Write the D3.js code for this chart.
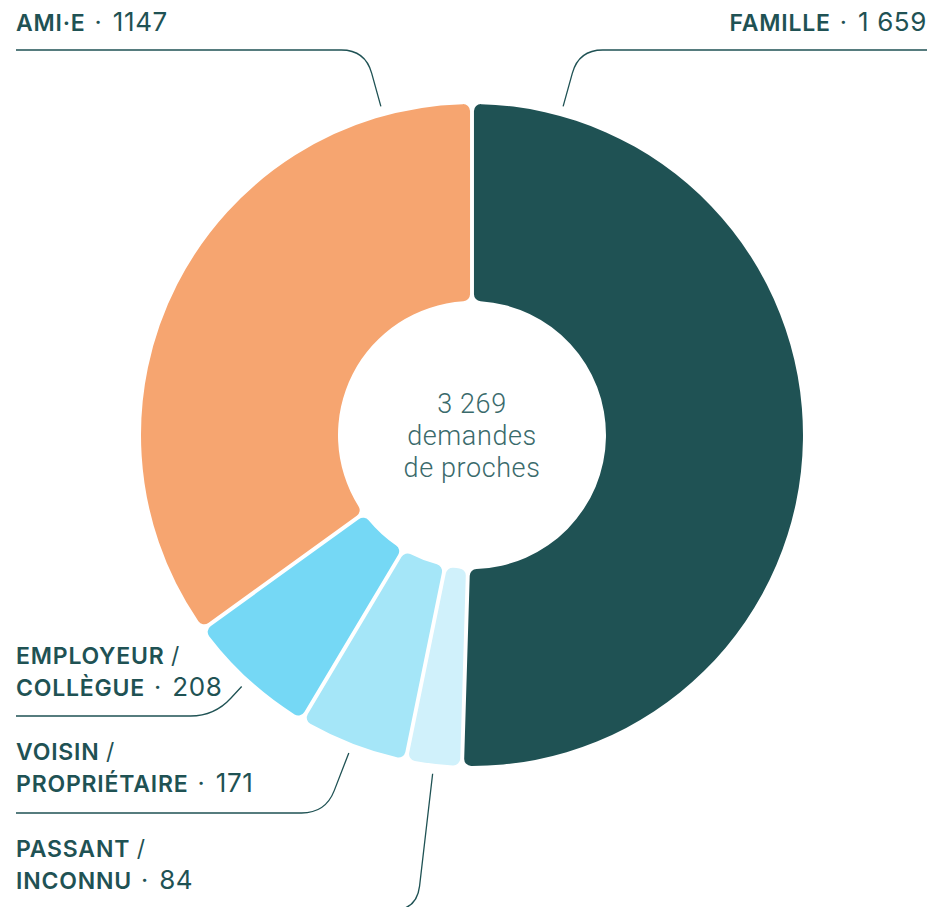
<!DOCTYPE html>
<html>
<head>
<meta charset="utf-8">
<script src="https://cdn.jsdelivr.net/npm/d3@7"></script>
<style>
  html, body { margin: 0; padding: 0; background: #fff; }
  svg { display: block; }
</style>
</head>
<body>
<div id="chart"></div>
<script>
// données
const categories = ["Famille", "Passant / inconnu", "Voisin / propriétaire", "Employeur / collègue", "Ami·e"];
const values = [1659, 84, 171, 208, 1147];
const valueLabels = ["1 659", "84", "171", "208", "1147"];
// libellés en gras, une entrée par ligne
const labelLines = [
    ["FAMILLE"],
    ["PASSANT /", "INCONNU"],
    ["VOISIN /", "PROPRIÉTAIRE"],
    ["EMPLOYEUR /", "COLLÈGUE"],
    ["AMI·E"]
];
const centerLines = ["demandes", "de proches"];

const width = 929, height = 907;
const cx = 472, cy = 435;
const outerR = 331, innerR = 134;
const ink = "#1f5254";
const sliceColors = ["#1f5254", "#d0f1fb", "#a5e6f8", "#75d8f5", "#f6a570"];

// position des étiquettes (côté, lignes de base, ligne horizontale, angle forcé)
const labelLayout = [
    { side: "right", base: 31, hy: 50, angle: 15.5 },
    { side: "left", base: 857, hy: 910 },
    { side: "left", base: 760, hy: 813 },
    { side: "left", base: 664, hy: 716 },
    { side: "left", base: 31, hy: 50, angle: -15.5 }
];

const data = categories.map((c, i) => ({ cat: c, value: values[i], idx: i }));

const svg = d3.select("#chart").append("svg")
    .attr("width", width)
    .attr("height", height)
    .attr("viewBox", `0 0 ${width} ${height}`);

const g = svg.append("g").attr("transform", `translate(${cx},${cy})`);

const pie = d3.pie().sort(null).value(d => d.value).padAngle(0.011);
const arc = d3.arc().innerRadius(innerR).outerRadius(outerR).cornerRadius(7);
const arcs = pie(data);

g.selectAll("path.slice")
    .data(arcs)
    .enter()
    .append("path")
    .attr("class", "slice")
    .attr("d", arc)
    .attr("fill", d => sliceColors[d.data.idx]);

// texte central
const fr = d3.formatLocale({ decimal: ",", thousands: " ", grouping: [3], currency: ["", " €"] });
const total = d3.sum(values);
const center = g.append("text")
    .attr("text-anchor", "middle")
    .attr("fill", "#3a6a6b")
    .attr("font-family", "Roboto, sans-serif")
    .attr("font-weight", 300)
    .attr("font-size", 27)
    .attr("letter-spacing", 0.6);
[fr.format(",")(total), ...centerLines].forEach((t, i) => {
    center.append("tspan").attr("x", 0).attr("y", -22 + i * 32).text(t);
});

// lignes de rappel + étiquettes
const lineH = 32;
arcs.forEach(d => {
    const i = d.data.idx;
    const L = labelLayout[i];
    const a = L.angle !== undefined ? L.angle * Math.PI / 180 : (d.startAngle + d.endAngle) / 2;
    const ux = Math.sin(a), uy = -Math.cos(a);
    const r0 = outerR + 10;
    const sx = cx + r0 * ux, sy = cy + r0 * uy;
    const t = (L.hy - sy) / uy;
    const px = sx + t * ux, py = L.hy;
    const rc = 24;
    const hx = L.side === "left" ? -1 : 1;
    const xEnd = L.side === "left" ? 16 : 927;
    const p = d3.path();
    p.moveTo(sx, sy);
    p.lineTo(px - rc * ux, py - rc * uy);
    p.quadraticCurveTo(px, py, px + hx * rc, py);
    p.lineTo(xEnd, py);
    svg.append("path")
        .attr("d", p.toString())
        .attr("fill", "none")
        .attr("stroke", ink)
        .attr("stroke-width", 1.3);

    const txt = svg.append("text")
        .attr("fill", ink)
        .attr("font-family", "Inter, sans-serif")
        .attr("font-size", 23)
        .attr("text-anchor", L.side === "left" ? "start" : "end");
    const lines = labelLines[i];
    lines.forEach((ln, k) => {
        const tl = txt.append("tspan")
            .attr("x", xEnd)
            .attr("y", L.base + k * lineH);
        const last = k === lines.length - 1;
        const slash = ln.endsWith(" /");
        tl.append("tspan")
            .attr("font-weight", 600)
            .attr("letter-spacing", 0.8)
            .text(slash ? ln.slice(0, -2) : ln);
        if (slash) tl.append("tspan").attr("font-weight", 400).text(" /");
        if (last) {
            tl.append("tspan").attr("font-weight", 400).attr("font-size", 25)
                .attr("letter-spacing", 2).text(" · ");
            tl.append("tspan").attr("font-weight", 400).attr("font-size", 26)
                .attr("letter-spacing", 0.6).text(valueLabels[i]);
        }
    });
});
</script>
</body>
</html>
